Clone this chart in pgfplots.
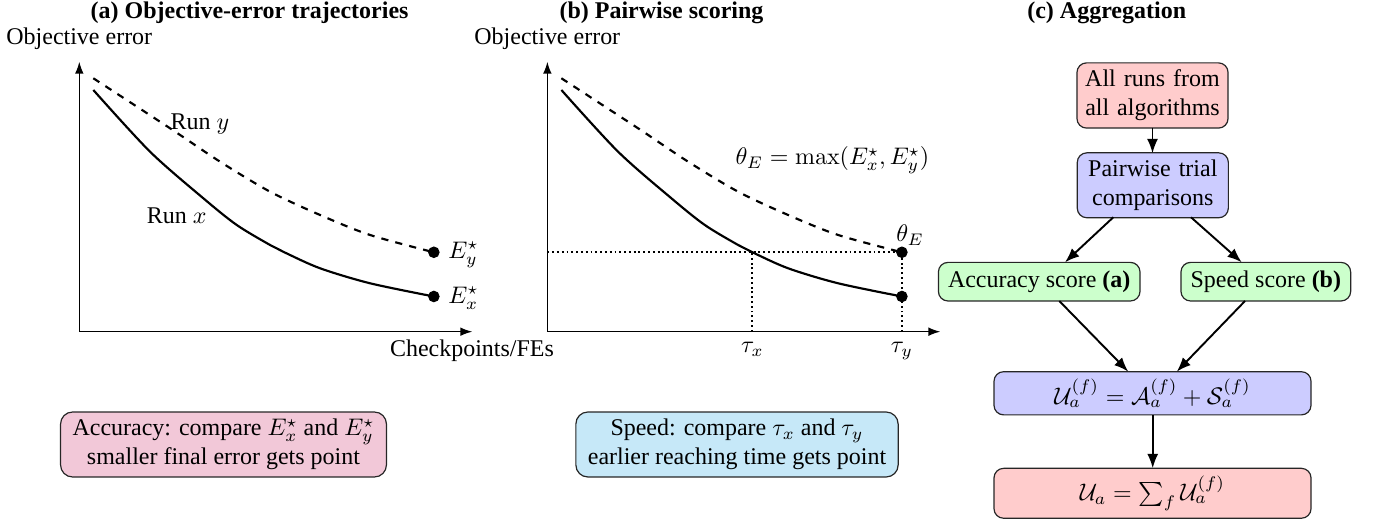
\documentclass[border=0pt]{standalone}
\usepackage[no-math]{fontspec}
\setmainfont{Liberation Serif}
\usepackage{pgfplots}
\pgfplotsset{compat=1.18}
\usepackage{pgfplotstable}
\usetikzlibrary{arrows.meta}
\definecolor{accfill}{RGB}{242,200,216}
\definecolor{spdfill}{RGB}{198,232,248}
\definecolor{cred}{RGB}{255,204,204}
\definecolor{cblue}{RGB}{204,204,255}
\definecolor{cgreen}{RGB}{204,255,204}

\pgfplotstableread{
x y
14 241.7
70.7 180
124 133.4
157.4 106.7
190.7 86.7
205 79.4
240.7 63.4
290.7 48.4
354.5 35.2
}\runx
\pgfplotstableread{
x y
14 253.4
90.7 203.4
140.7 170
190.7 140
240.7 116.7
290.7 96.7
354.5 79.4
}\runy

\pgfplotsset{panel/.style={scale only axis, width=163.9pt, height=112.6pt,
  xmin=0, xmax=393, ymin=0, ymax=270, axis lines=left,
  axis line style={line width=0.6pt, -{Latex[length=5pt,width=3.6pt]}},
  ticks=none, clip=false, enlargelimits=false}}

\begin{document}
\begin{tikzpicture}[x=0.417pt, y=0.417pt,
  box/.style={draw=black!85, line width=0.5pt, rounded corners=4pt, inner sep=3pt, align=center},
  lab/.style={inner sep=0pt},
  arr/.style={line width=0.8pt, -{Latex[length=6pt,width=4.6pt]}}]
\path[use as bounding box] (0,0) rectangle (1375,531);

% ---- panel (a)
\begin{axis}[panel, at={(79.3,199.3)}, anchor=origin]
\addplot[black, line width=0.9pt, smooth] table {\runx};
\addplot[black, line width=0.9pt, dashed, smooth] table {\runy};
\addplot[only marks, mark=*, mark size=2.2pt, black] coordinates {(354.5,79.4) (354.5,35.2)};
\end{axis}

% ---- panel (b)
\begin{axis}[panel, at={(547.3,199.3)}, anchor=origin]
\addplot[black, line width=0.8pt, dash pattern=on 0.8pt off 1.2pt] coordinates {(0,79.4) (354.5,79.4)};
\addplot[black, line width=0.8pt, dash pattern=on 0.8pt off 1.2pt] coordinates {(205,0) (205,79.4)};
\addplot[black, line width=0.8pt, dash pattern=on 0.8pt off 1.2pt] coordinates {(354.5,0) (354.5,79.4)};
\addplot[black, line width=0.9pt, smooth] table {\runx};
\addplot[black, line width=0.9pt, dashed, smooth] table {\runy};
\addplot[only marks, mark=*, mark size=2.2pt, black] coordinates {(354.5,79.4) (354.5,35.2)};
\end{axis}

\begin{scope}[shift={(0,531)}, yscale=-1]
% ---- titles and labels
\node[lab, anchor=base, font=\bfseries] at (249.6,18.5) {(a) Objective-error trajectories};
\node[lab, anchor=base, font=\bfseries] at (661.5,18.5) {(b) Pairwise scoring};
\node[lab, anchor=base, font=\bfseries] at (1106.7,18.5) {(c) Aggregation};
\node[lab, anchor=base] at (79.3,45) {Objective error};
\node[lab, anchor=base] at (547.3,45) {Objective error};
\node[lab, anchor=base] at (472,356.5) {Checkpoints/FEs};
\node[lab, anchor=base] at (200,130) {Run $y$};
\node[lab, anchor=base] at (176.7,223.3) {Run $x$};
\node[lab, anchor=base west] at (448,258.5) {$E_y^\star$};
\node[lab, anchor=base west] at (448,303.5) {$E_x^\star$};
\node[lab, anchor=base] at (832.5,165) {$\theta_E=\max(E_x^\star,E_y^\star)$};
\node[lab, anchor=base] at (910,241.7) {$\theta_E$};
\node[lab, anchor=base] at (752.3,353) {$\tau_x$};
\node[lab, anchor=base] at (901.8,353) {$\tau_y$};

% ---- bottom boxes
\node[box, fill=accfill, rounded corners=5pt, inner xsep=5pt, minimum height=27pt] at (223.5,444.5)
  {Accuracy: compare $E_x^\star$ and $E_y^\star$\\smaller final error gets point};
\node[box, fill=spdfill, rounded corners=5pt, inner xsep=5pt, minimum height=27pt] at (737,444.5)
  {Speed: compare $\tau_x$ and $\tau_y$\\earlier reaching time gets point};

% ---- panel (c)
\node[box, fill=cred, text width=57pt, minimum height=26.8pt] at (1152.5,95.5) {All runs from\\all algorithms};
\node[box, fill=cblue, text width=57pt, minimum height=26.8pt] at (1152.8,185.3) {Pairwise trial\\comparisons};
\node[box, fill=cgreen, inner xsep=4pt, minimum height=16.1pt] at (1039.2,281.7) {Accuracy score \textbf{(a)}};
\node[box, fill=cgreen, inner xsep=4pt, minimum height=16.1pt] at (1265.8,281.7) {Speed score \textbf{(b)}};
\node[box, fill=cblue, minimum width=132.2pt, minimum height=18pt] at (1152.5,393.3)
  {$\mathcal{U}_a^{(f)}=\mathcal{A}_a^{(f)}+\mathcal{S}_a^{(f)}$};
\node[box, fill=cred, minimum width=132.2pt, minimum height=20.8pt] at (1152.5,493.3)
  {$\mathcal{U}_a=\sum_f \mathcal{U}_a^{(f)}$};

\draw[arr] (1152.5,127.7) -- (1152.5,153.3);
\draw[arr] (1113.3,217.3) -- (1065,262.3);
\draw[arr] (1191,217.3) -- (1241.7,262.3);
\draw[arr] (1059.3,301) -- (1128.3,371.7);
\draw[arr] (1245,301) -- (1176.7,371.7);
\draw[arr] (1152.7,415) -- (1152.7,468.3);
\end{scope}
\end{tikzpicture}
\end{document}
